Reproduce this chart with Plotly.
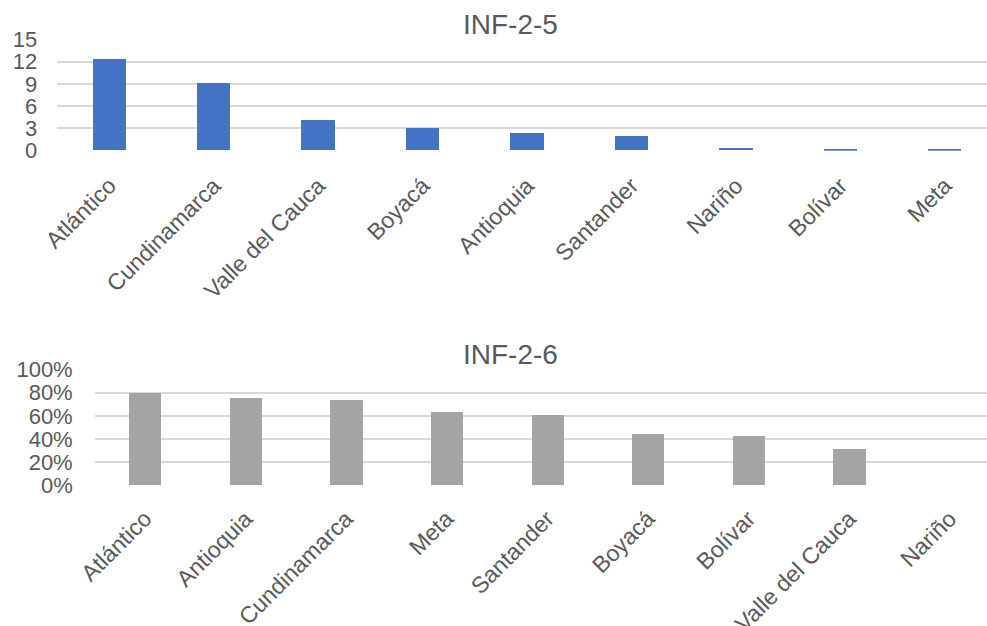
import plotly.graph_objects as go

# INF-2-5: values per department
dept_a = ["Atlántico", "Cundinamarca", "Valle del Cauca", "Boyacá", "Antioquia",
          "Santander", "Nariño", "Bolívar", "Meta"]
vals_a = [12.3, 9.05, 4.1, 2.95, 2.3, 1.97, 0.27, 0.25, 0.08]
ticks_a = [0, 3, 6, 9, 12, 15]

# INF-2-6: share per department
dept_b = ["Atlántico", "Antioquia", "Cundinamarca", "Meta", "Santander",
          "Boyacá", "Bolívar", "Valle del Cauca", "Nariño"]
vals_b = [0.79, 0.747, 0.733, 0.633, 0.607, 0.444, 0.427, 0.313, 0.0]
ticks_b = [0, 0.2, 0.4, 0.6, 0.8, 1.0]

W, H = 987, 626
FONT = "Arial, Liberation Sans, sans-serif"
TXT = "#595959"
GRID = "#d9d9d9"
XTICK_SIZE = 23
YTICK_SIZE = 22
TITLE_SIZE = 28

fig = go.Figure()
fig.add_trace(go.Bar(x=list(range(len(dept_a))), y=vals_a, width=0.32,
                     marker=dict(color="#4472C4", line=dict(width=0)),
                     xaxis="x", yaxis="y", showlegend=False))
fig.add_trace(go.Bar(x=list(range(len(dept_b))), y=vals_b, width=0.32,
                     marker=dict(color="#A5A5A5", line=dict(width=0)),
                     xaxis="x2", yaxis="y2", showlegend=False))


def px_x(p):
    return p / W


def px_y(p):
    return 1 - p / H


axis_common = dict(showline=False, zeroline=False, ticks="", automargin=False)
xfont = dict(family=FONT, size=XTICK_SIZE, color=TXT)
yfont = dict(family=FONT, size=YTICK_SIZE, color=TXT)

fig.update_layout(
    template="none",
    width=W, height=H,
    margin=dict(l=0, r=0, t=0, b=0, pad=0),
    paper_bgcolor="white", plot_bgcolor="white",
    bargap=0,
    xaxis=dict(domain=[px_x(57.3), 1], range=[-0.5, 8.402],
               tickmode="array", tickvals=list(range(len(dept_a))), ticktext=dept_a,
               tickangle=-45, showgrid=False, anchor="y", tickfont=xfont,
               ticklabelstandoff=16, **axis_common),
    yaxis=dict(domain=[px_y(150.7), px_y(39.3)], range=[0, 15],
               tickmode="array", tickvals=ticks_a, ticktext=[str(t) for t in ticks_a],
               showgrid=True, gridcolor=GRID, gridwidth=2, anchor="x", tickfont=yfont,
               ticklabelstandoff=19, **axis_common),
    xaxis2=dict(domain=[px_x(94.7), 1], range=[-0.5, 8.37],
                tickmode="array", tickvals=list(range(len(dept_b))), ticktext=dept_b,
                tickangle=-45, showgrid=False, anchor="y2", tickfont=xfont,
                ticklabelstandoff=14, **axis_common),
    yaxis2=dict(domain=[px_y(485.7), px_y(369.3)], range=[0, 1],
                tickmode="array", tickvals=ticks_b,
                ticktext=[f"{int(round(t * 100))}%" for t in ticks_b],
                showgrid=True, gridcolor=GRID, gridwidth=2, anchor="x2", tickfont=yfont,
                ticklabelstandoff=21, **axis_common),
    annotations=[
        dict(text="INF-2-5", x=px_x(510), y=px_y(24), xref="paper", yref="paper",
             showarrow=False, xanchor="center", yanchor="middle",
             font=dict(family=FONT, size=TITLE_SIZE, color=TXT)),
        dict(text="INF-2-6", x=px_x(510), y=px_y(354), xref="paper", yref="paper",
             showarrow=False, xanchor="center", yanchor="middle",
             font=dict(family=FONT, size=TITLE_SIZE, color=TXT)),
    ],
)

fig.write_html("out.html")
